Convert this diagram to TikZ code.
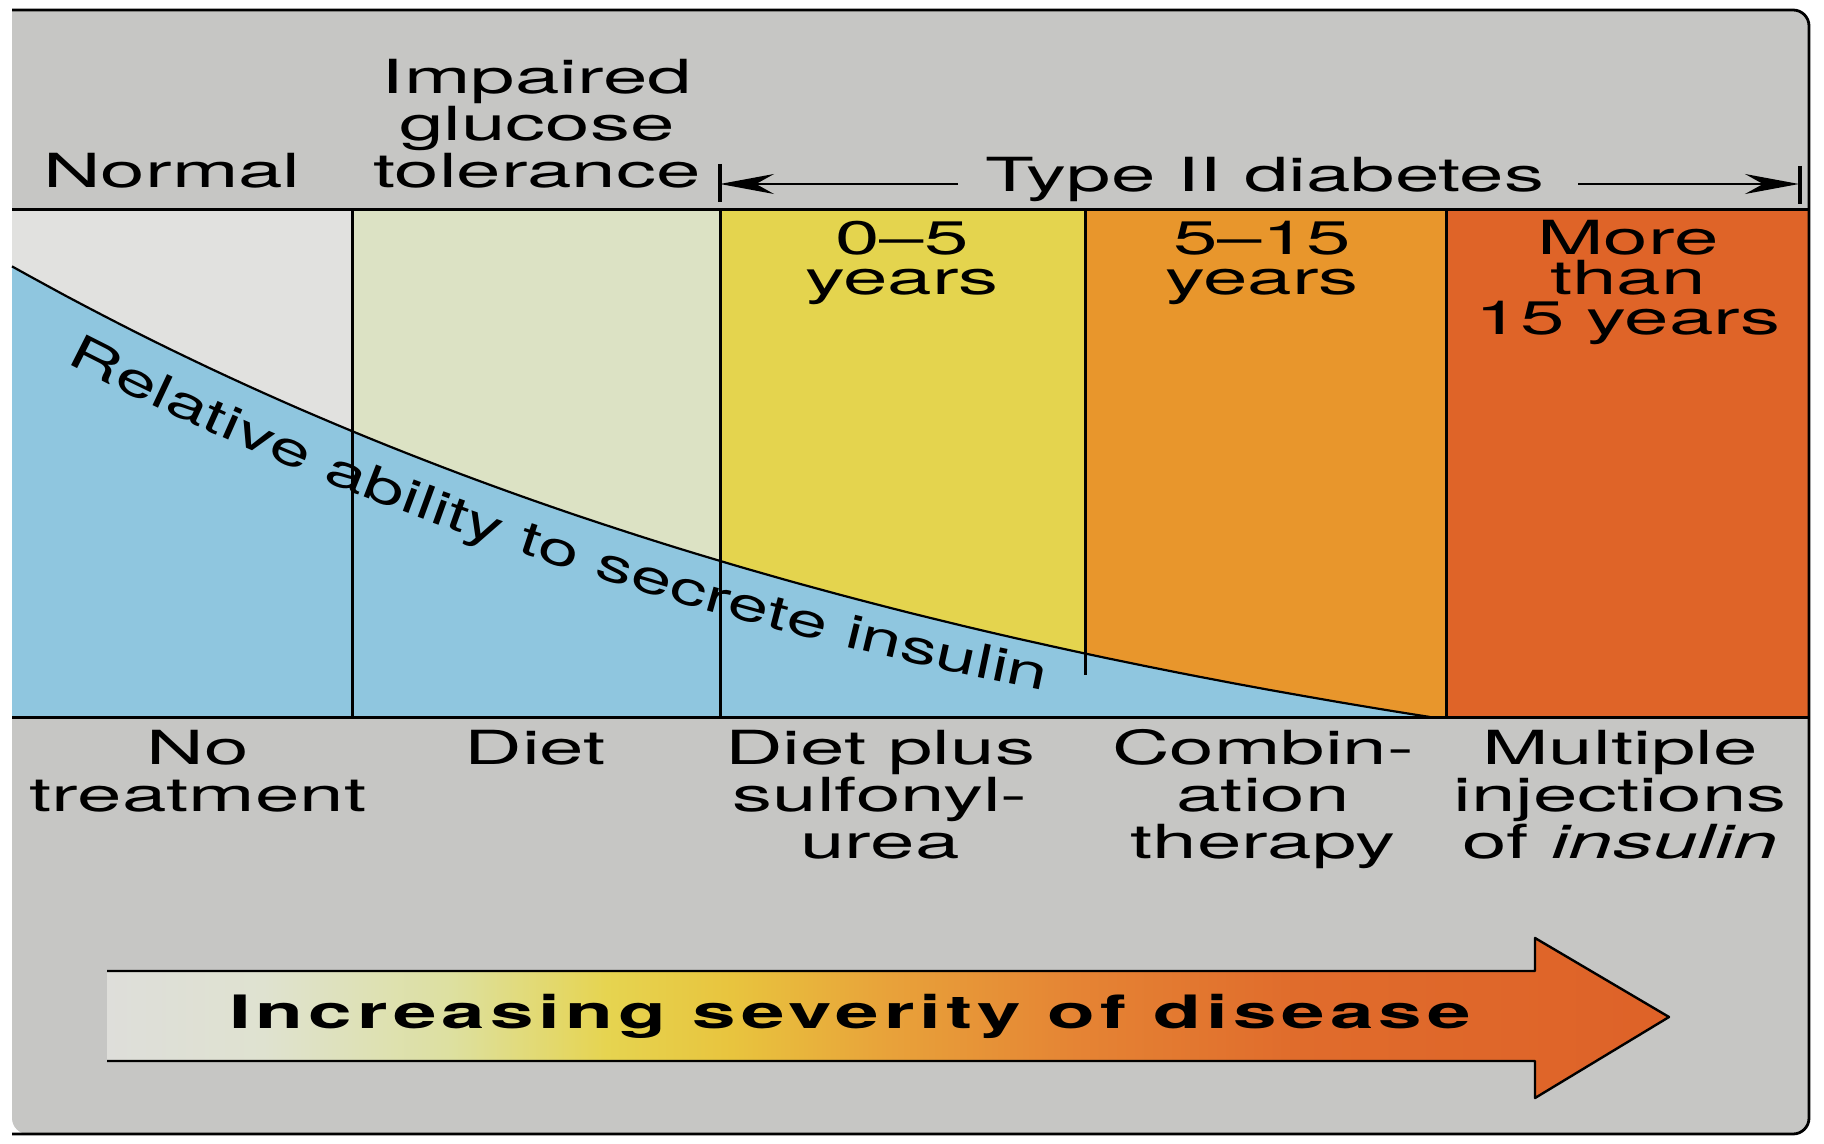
\documentclass[tikz,border=0pt]{standalone}
\usepackage{fontspec}
\setmainfont{TeX Gyre Heros}[FakeStretch=1.7]
\newfontfamily\curvefont{TeX Gyre Heros}[FakeStretch=1.55]
\newfontfamily\arrowfont{TeX Gyre Heros}[FakeStretch=1.7, LetterSpace=11]
\usetikzlibrary{arrows.meta,decorations.text}
\definecolor{bggray}{HTML}{C6C6C4}
\definecolor{colA}{HTML}{E1E1DF}
\definecolor{colB}{HTML}{DCE2C4}
\definecolor{colC}{HTML}{E4D44E}
\definecolor{colD}{HTML}{E8962C}
\definecolor{colE}{HTML}{DF6428}
\definecolor{bluec}{HTML}{8FC6DF}
\definecolor{gA}{HTML}{DEDEDA}
\definecolor{gB}{HTML}{DFE2D0}
\definecolor{gC}{HTML}{DDE0A0}
\definecolor{gD}{HTML}{E6D450}
\definecolor{gE}{HTML}{E8C43E}
\definecolor{gF}{HTML}{E8A23A}
\definecolor{gG}{HTML}{E58434}
\definecolor{gH}{HTML}{E06C2C}
\definecolor{gI}{HTML}{DE6228}
\pgfdeclarehorizontalshading{severity}{100bp}{%
  color(0bp)=(gA); color(25bp)=(gA); color(30bp)=(gB);
  color(36bp)=(gC); color(41bp)=(gD); color(45bp)=(gE);
  color(50bp)=(gF); color(56bp)=(gG); color(63bp)=(gH);
  color(75bp)=(gI); color(100bp)=(gI)}
\begin{document}
\begin{tikzpicture}[x=0.5pt,y=-0.5pt,
  lbl/.style={font=\fontsize{23.5}{23.5}\selectfont, align=center, anchor=base, inner sep=0pt},
  yrlbl/.style={font=\fontsize{23.5}{20}\selectfont, align=center, anchor=base, inner sep=0pt},
  frameline/.style={line width=1.4pt},
  divider/.style={line width=1.5pt},
  curveline/.style={line width=1.1pt},
  tarrow/.style={line width=0.9pt, -{Stealth[length=27pt, width=10pt, inset=9pt]}},
  tbar/.style={line width=1.6pt}]
\useasboundingbox (0,0) rectangle (1824,1144);
\fill[white] (0,0) rectangle (1824,1144);
% panel
\fill[bggray, rounded corners=8pt] (12,10) -- (1809,10) -- (1809,1134) -- (12,1134) [sharp corners] -- cycle;
% colored bands
\fill[colA] (12,210) rectangle (352,717);
\fill[colB] (352,210) rectangle (720,717);
\fill[colC] (720,210) rectangle (1085,717);
\fill[colD] (1085,210) rectangle (1446,717);
\fill[colE] (1446,210) rectangle (1809,717);
% blue region under curve
\fill[bluec] (12,717) -- plot[domain=12:1430, samples=80] (\x, {717 - (625*exp(-0.0009*(\x-12)) - 174.4)}) -- cycle;
\draw[curveline] plot[domain=12:1430, samples=80] (\x, {717 - (625*exp(-0.0009*(\x-12)) - 174.4)});
% dividers
\coordinate (d1t) at (352,210); \coordinate (d1b) at (352,717);
\coordinate (d2t) at (720,210); \coordinate (d2b) at (720,717);
\coordinate (d3t) at (1085,210); \coordinate (d3b) at (1085,675);
\coordinate (d4t) at (1446,210); \coordinate (d4b) at (1446,717);
\draw[divider] (d1t) -- (d1b);
\draw[divider] (d2t) -- (d2b);
\draw[divider] (d3t) -- (d3b);
\draw[divider] (d4t) -- (d4b);
\draw[divider] (12,210) -- (1809,210);
\draw[divider] (12,717) -- (1809,717);
% frame
\draw[frameline, rounded corners=8pt] (12,10) -- (1809,10) -- (1809,1134) -- (12,1134);
% curve text
\path[decorate, decoration={text along path,
  text={|\curvefont\fontsize{23.5}{23.5}\selectfont|Relative ability to secrete insulin},
  text align={left indent=30pt}}]
  plot[domain=12:1400, samples=80] (\x, {717 - (625*exp(-0.0009*(\x-12)) - 174.4) + 68 - 0.021*(\x-12)});
% header texts
\node[lbl] (normal) at (172,188) {Normal};
\node[lbl] (igt) at (537,188) {Impaired\\glucose\\tolerance};
\node[lbl] (type) at (1265,192) {Type II diabetes};
\coordinate (tL) at (720,184); \coordinate (tLs) at (958,184);
\coordinate (tR) at (1799,184); \coordinate (tRs) at (1578,184);
\draw[tarrow] (tLs) -- (tL);
\draw[tarrow] (tRs) -- (tR);
\draw[tbar] (720,164) -- (720,202);
\draw[tbar] (1800,166) -- (1800,204);
% band labels
\node[yrlbl] (y1) at (902,295) {0--5\\years};
\node[yrlbl] (y2) at (1262,295) {5--15\\years};
\node[yrlbl] (y3) at (1628,335) {More\\than\\15 years};
% treatment labels
\node[lbl] (t1) at (198,811) {No\\treatment};
\node[lbl] (t2) at (535,764) {Diet};
\node[lbl] (t3) at (880,858) {Diet plus\\sulfonyl-\\urea};
\node[lbl] (t4) at (1263,858) {Combin-\\ation\\therapy};
\node[lbl] (t5) at (1620,858) {Multiple\\injections\\of \textit{insulin}};
% severity arrow
\shade[shading=severity] (107,971) -- (1535,971) -- (1535,938) -- (1669,1017) -- (1535,1098) -- (1535,1061) -- (107,1061) -- cycle;
\draw[line width=1.2pt, line join=round] (107,971) -- (1535,971) -- (1535,938) -- (1669,1017) -- (1535,1098) -- (1535,1061) -- (107,1061);
\node[inner sep=0pt, anchor=base, font=\arrowfont\bfseries\fontsize{23}{23}\selectfont] (sev) at (850,1028) {Increasing severity of disease};
\end{tikzpicture}
\end{document}
